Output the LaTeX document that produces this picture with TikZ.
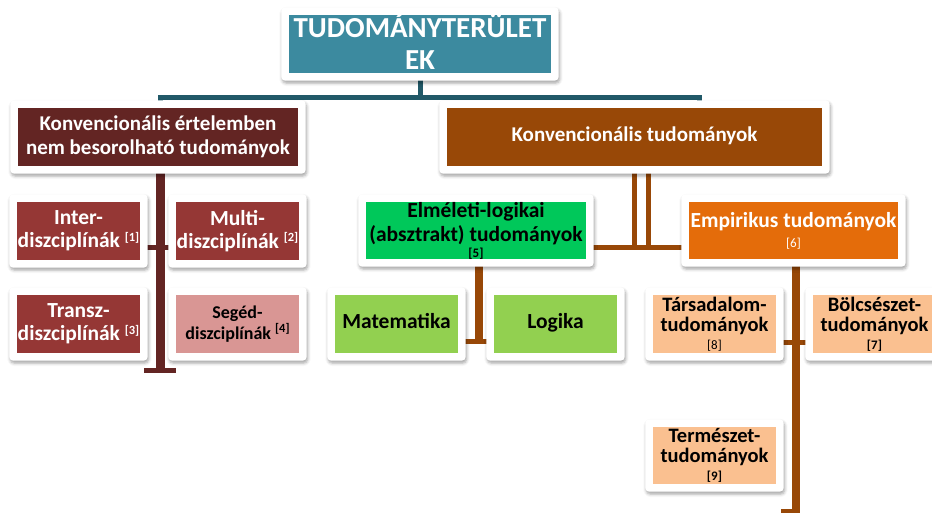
\documentclass[tikz,border=0pt]{standalone}
\usepackage{fontspec}
\setmainfont{Carlito}
\usetikzlibrary{shadows.blur,calc}
\pgfdeclarelayer{lines}
\pgfdeclarelayer{frames}
\pgfsetlayers{lines,frames,main}
\definecolor{cTeal}{HTML}{3C8A9F}
\definecolor{cTealLine}{HTML}{215968}
\definecolor{cMaroon}{HTML}{632523}
\definecolor{cRed}{HTML}{953735}
\definecolor{cPink}{HTML}{D99694}
\definecolor{cBrown}{HTML}{984807}
\definecolor{cOrange}{HTML}{E46C0A}
\definecolor{cPeach}{HTML}{FAC090}
\definecolor{cGreen}{HTML}{00C85A}
\definecolor{cLime}{HTML}{92D050}
\tikzset{
  box/.style={fill=#1, inner xsep=0pt, inner ysep=-14pt, align=center,
    minimum height=58pt, font=\bfseries\fontsize{21.5}{23}\selectfont},
  frame/.style={fill=white, rounded corners=4pt,
    blur shadow={shadow xshift=1pt, shadow yshift=-2.5pt, shadow blur radius=3pt, shadow opacity=35}},
  tl/.style={draw=cTealLine, line width=5pt},
  ml/.style={draw=cMaroon, line width=#1},
  bl/.style={draw=cBrown, line width=#1},
}
\newcommand{\refsmall}[1]{{\fontsize{13}{14}\selectfont #1}}
\newcommand{\refsup}[1]{\raisebox{6.5pt}{\fontsize{12.5}{13}\selectfont #1}}
\begin{document}
\begin{tikzpicture}[x=1pt,y=-1pt]
\useasboundingbox (0,0) rectangle (932,513);

% nodes
\node[box=cTeal, minimum width=262pt,
  label={[align=center, text=white, inner sep=0pt, yshift=2.5pt, font=\bfseries\fontsize{29}{31.5}\selectfont]center:{TUDOMÁNYTERÜLET\\EK}}] (top) at (420,44) {};
\node[box=cMaroon, minimum width=280pt, text=white, font=\bfseries\fontsize{21}{23.5}\selectfont] (L1) at (158,137) {Konvencionális értelemben\\nem besorolható tudományok};
\node[box=cBrown, minimum width=375pt, text=white, font=\bfseries\fontsize{21}{23.5}\selectfont] (R1) at (634.5,137) {\strut Konvencionális tudományok};

\node[box=cRed, minimum width=123pt, text=white] (Inter) at (78.5,231) {Inter-\\diszciplínák \refsup{[1]}};
\node[box=cRed, minimum width=123pt, text=white] (Multi) at (237.5,231) {Multi-\\diszciplínák \refsup{[2]}};
\node[box=cRed, minimum width=123pt, text=white] (Transz) at (78.5,324) {Transz-\\diszciplínák \refsup{[3]}};
\node[box=cPink, minimum width=123pt, text=black, font=\bfseries\fontsize{18}{21}\selectfont] (Seged) at (237.5,324) {Segéd-\\diszciplínák \refsup{[4]}};

\node[box=cGreen, minimum width=220pt, minimum height=57pt, text=black, font=\bfseries\fontsize{21.5}{24}\selectfont] (Elm) at (476,230.5) {Elméleti-logikai\\(absztrakt) tudományok\\[-8pt]\refsmall{[5]}};
\node[box=cOrange, minimum width=209pt, minimum height=57pt, text=white] (Emp) at (793.5,230.5) {Empirikus tudományok\\[-3pt]{\mdseries\refsmall{[6]}}};

\node[box=cLime, minimum width=123pt, text=black] (Mat) at (396.5,324) {\strut Matematika};
\node[box=cLime, minimum width=123pt, text=black] (Log) at (555.5,324) {\strut Logika};

\node[box=cPeach, minimum width=123pt, text=black, font=\bfseries\fontsize{20.5}{20}\selectfont] (Tars) at (714.5,324) {Társadalom-\\tudományok\\[-2pt]{\mdseries\refsmall{[8]}}};
\node[box=cPeach, minimum width=123pt, text=black, font=\bfseries\fontsize{20.5}{20}\selectfont] (Bolcs) at (874.5,324) {Bölcsészet-\\tudományok\\[-2pt]\refsmall{[7]}};
\node[box=cPeach, minimum width=123pt, minimum height=57pt, text=black, font=\bfseries\fontsize{20.5}{20}\selectfont] (Term) at (714.5,455.5) {Természet-\\tudományok\\[-2pt]\refsmall{[9]}};

% white frames with shadows
\begin{pgfonlayer}{frames}
\foreach \n in {top,L1,R1,Inter,Multi,Transz,Seged,Elm,Emp,Mat,Log,Tars,Bolcs,Term}
  \path[frame] ($(\n.north west)+(-7.5,-7.5)$) rectangle ($(\n.south east)+(7.5,7.5)$);
\end{pgfonlayer}

% connectors
\begin{pgfonlayer}{lines}
\coordinate (busT) at (0,97.5);
\draw[tl] (top.south) -- (top.south |- busT);
\draw[tl] ([xshift=2pt]L1.north) -- ([xshift=2pt]L1.north |- busT) -- ([xshift=64.5pt]R1.north |- busT) -- ([xshift=64.5pt]R1.north);

\coordinate (mEnd) at (160.5,370.5);
\draw[ml=9pt] ([xshift=2.5pt]L1.south) -- ([xshift=2.5pt]L1.south |- mEnd);
\draw[ml=5pt] ([xshift=-16.5pt]mEnd) -- ([xshift=15.5pt]mEnd);
\draw[ml=5pt] ([yshift=-16.5pt]Inter.east) -- ([yshift=-16.5pt]Multi.west);

\coordinate (busB) at (0,248);
\draw[bl=5pt] ([xshift=-0.5pt]R1.south) -- ([xshift=-0.5pt]R1.south |- busB);
\draw[bl=5pt] ([xshift=13.5pt]R1.south) -- ([xshift=13.5pt]R1.south |- busB);
\draw[bl=5pt] (Elm.east |- busB) -- (Emp.west |- busB);

\coordinate (elEnd) at (0,344);
\draw[bl=8pt] ([xshift=2.5pt]Elm.south) -- ([xshift=2.5pt]Elm.south |- elEnd);
\draw[bl=5pt] ([yshift=-17.5pt]Mat.east) -- ([yshift=-17.5pt]Log.west);

\coordinate (eEndY) at (0,511);
\coordinate (eEnd) at ([xshift=2.5pt]Emp.south |- eEndY);
\draw[bl=8pt] ([xshift=2.5pt]Emp.south) -- ([yshift=-2pt]eEnd);
\draw[bl=5pt] ([yshift=-18pt]Tars.east) -- ([yshift=-18pt]Bolcs.west);
\draw[bl=4pt] ([xshift=-15pt]eEnd) -- ([xshift=4pt]eEnd);
\end{pgfonlayer}
\end{tikzpicture}
\end{document}
